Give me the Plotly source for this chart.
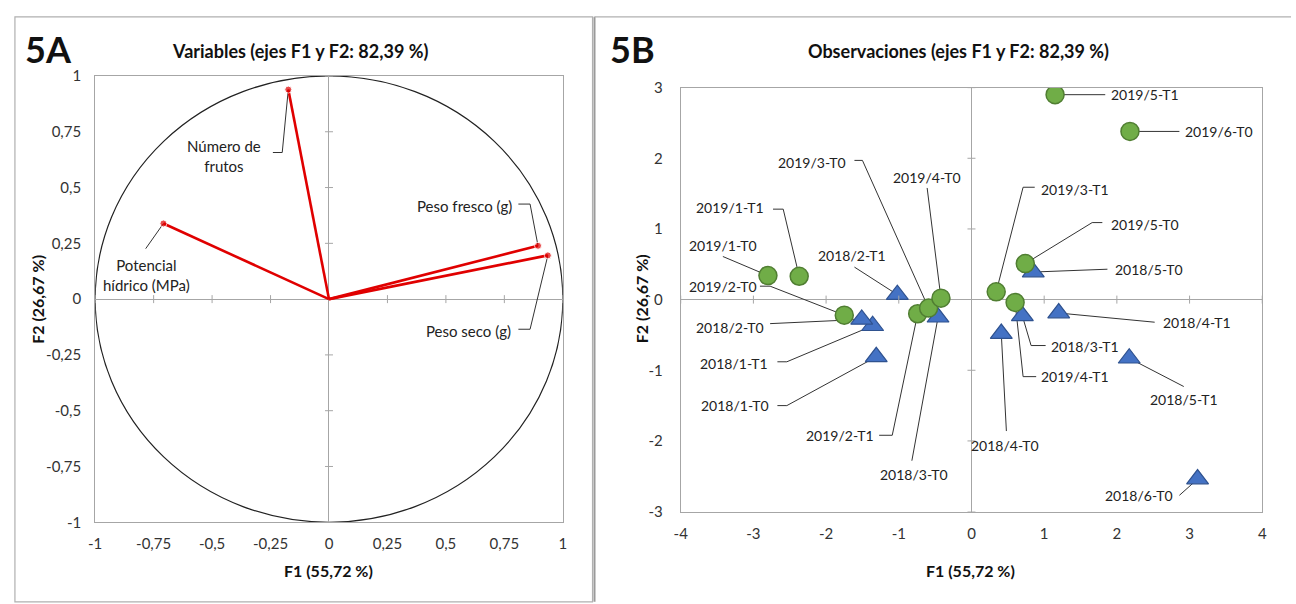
import plotly.graph_objects as go

W, H = 1296, 604

# ---------------- data ----------------
# Left panel: variable loadings on F1/F2
var_names = ["Número de frutos", "Potencial hídrico (MPa)", "Peso fresco (g)", "Peso seco (g)"]
var_f1 = [-0.174, -0.708, 0.894, 0.936]
var_f2 = [0.939, 0.339, 0.239, 0.196]

# Right panel: observations (2019 = green circles, 2018 = blue triangles)
obs19_labels = ["2019/1-T0", "2019/1-T1", "2019/2-T0", "2019/2-T1", "2019/3-T0", "2019/3-T1",
                "2019/4-T0", "2019/4-T1", "2019/5-T0", "2019/5-T1", "2019/6-T0"]
obs19_f1 = [-2.80, -2.37, -1.75, -0.74, -0.59, 0.34, -0.42, 0.60, 0.74, 1.15, 2.18]
obs19_f2 = [0.34, 0.33, -0.22, -0.20, -0.12, 0.11, 0.02, -0.04, 0.51, 2.90, 2.38]

obs18_labels = ["2018/1-T0", "2018/1-T1", "2018/2-T0", "2018/2-T1", "2018/3-T0", "2018/3-T1",
                "2018/4-T0", "2018/4-T1", "2018/5-T0", "2018/5-T1", "2018/6-T0"]
obs18_f1 = [-1.31, -1.36, -1.51, -1.02, -0.46, 0.70, 0.41, 1.20, 0.85, 2.17, 3.11]
obs18_f2 = [-0.81, -0.37, -0.28, 0.07, -0.25, -0.23, -0.48, -0.19, 0.39, -0.83, -2.54]

# ticks
left_ticks = [-1, -0.75, -0.5, -0.25, 0, 0.25, 0.5, 0.75, 1]
left_ticktext = ["-1", "-0,75", "-0,5", "-0,25", "0", "0,25", "0,5", "0,75", "1"]
right_xticks = [-4, -3, -2, -1, 0, 1, 2, 3, 4]
right_yticks = [-3, -2, -1, 0, 1, 2, 3]

# ---------------- label layout (positions only) ----------------
var_label_layout = {
    "Número de frutos": dict(text="Número de<br>frutos", pos=(-0.45, 0.64), knees=[(-0.24, 0.657), (-0.20, 0.657)]),
    "Potencial hídrico (MPa)": dict(text="Potencial<br>hídrico (MPa)", pos=(-0.78, 0.11), knees=[(-0.784, 0.226)]),
    "Peso fresco (g)": dict(text="Peso fresco (g)", pos=(0.58, 0.417), knees=[(0.81, 0.426), (0.86, 0.426)]),
    "Peso seco (g)": dict(text="Peso seco (g)", pos=(0.597, -0.143), knees=[(0.81, -0.135), (0.86, -0.135)]),
}

obs_label_layout = {
    "2019/5-T1": ((2.39, 2.90), [(1.84, 2.90)]),
    "2019/6-T0": ((3.40, 2.38), [(2.86, 2.38)]),
    "2019/3-T0": ((-2.20, 1.94), [(-1.61, 1.97), (-1.50, 1.97)]),
    "2019/4-T0": ((-0.61, 1.73), [(-0.61, 1.58)]),
    "2019/3-T1": ((1.42, 1.56), [(0.87, 1.59), (0.71, 1.59)]),
    "2019/5-T0": ((2.39, 1.06), [(1.80, 1.09), (1.66, 1.09)]),
    "2018/5-T0": ((2.44, 0.43), [(1.87, 0.43)]),
    "2018/4-T1": ((3.10, -0.32), [(2.52, -0.32)]),
    "2018/3-T1": ((1.56, -0.66), [(1.02, -0.65), (0.82, -0.65)]),
    "2019/4-T1": ((1.42, -1.09), [(0.89, -1.09), (0.71, -1.09)]),
    "2018/5-T1": ((2.92, -1.41), [(2.92, -1.23)]),
    "2018/4-T0": ((0.46, -2.07), [(0.48, -1.86)]),
    "2018/6-T0": ((2.31, -2.77), [(2.86, -2.77)]),
    "2019/1-T1": ((-3.32, 1.30), [(-2.73, 1.28), (-2.59, 1.28)]),
    "2019/1-T0": ((-3.42, 0.76), [(-3.42, 0.61)]),
    "2018/2-T1": ((-1.64, 0.63), [(-1.61, 0.46)]),
    "2019/2-T0": ((-3.42, 0.18), [(-2.91, 0.19), (-2.77, 0.19)]),
    "2018/2-T0": ((-3.32, -0.39), [(-2.77, -0.34)]),
    "2018/1-T1": ((-3.27, -0.90), [(-2.67, -0.88), (-2.54, -0.88)]),
    "2018/1-T0": ((-3.25, -1.50), [(-2.67, -1.50), (-2.54, -1.50)]),
    "2019/2-T1": ((-1.81, -1.92), [(-1.27, -1.92), (-1.09, -1.92)]),
    "2018/3-T0": ((-0.79, -2.47), [(-0.82, -2.28)]),
}

FONT = "Lato"
TXT = "#222222"
AXC = "#a6a6a6"
RED = "#e00000"

fig = go.Figure()

# ---------------- left panel ----------------
for name, x, y in zip(var_names, var_f1, var_f2):
    lay = var_label_layout[name]
    xs = [p[0] for p in lay["knees"]] + [x]
    ys = [p[1] for p in lay["knees"]] + [y]
    fig.add_trace(go.Scatter(x=xs, y=ys, mode="lines", line=dict(color="#333333", width=1),
                             xaxis="x", yaxis="y", hoverinfo="skip"))
for name, x, y in zip(var_names, var_f1, var_f2):
    fig.add_trace(go.Scatter(x=[0, x], y=[0, y], mode="lines+markers",
                             line=dict(color=RED, width=2.6),
                             marker=dict(size=[0, 7], color=RED),
                             xaxis="x", yaxis="y", name=name))
    lay = var_label_layout[name]
    fig.add_annotation(x=lay["pos"][0], y=lay["pos"][1], xref="x", yref="y", text=lay["text"],
                       showarrow=False, font=dict(family=FONT, size=15, color=TXT),
                       align="center", xanchor="center", yanchor="middle")

# ---------------- right panel ----------------
all_labels = obs19_labels + obs18_labels
all_f1 = obs19_f1 + obs18_f1
all_f2 = obs19_f2 + obs18_f2
for lab, x, y in zip(all_labels, all_f1, all_f2):
    pos, knees = obs_label_layout[lab]
    xs = [k[0] for k in knees] + [x]
    ys = [k[1] for k in knees] + [y]
    fig.add_trace(go.Scatter(x=xs, y=ys, mode="lines", line=dict(color="#333333", width=1),
                             xaxis="x2", yaxis="y2", hoverinfo="skip"))
    fig.add_annotation(x=pos[0], y=pos[1], xref="x2", yref="y2", text=lab, showarrow=False,
                       font=dict(family=FONT, size=14, color=TXT), xanchor="center", yanchor="middle")

fig.add_trace(go.Scatter(x=obs18_f1, y=obs18_f2, mode="markers", xaxis="x2", yaxis="y2", name="2018",
                         marker=dict(symbol="triangle-up", size=19, color="#4472c4",
                                     line=dict(color="#2f528f", width=1.2))))
fig.add_trace(go.Scatter(x=obs19_f1, y=obs19_f2, mode="markers", xaxis="x2", yaxis="y2", name="2019",
                         marker=dict(symbol="circle", size=18, color="#70ad47",
                                     line=dict(color="#507e32", width=1.5))))

# ---------------- shapes ----------------
shapes = []
shapes.append(dict(type="circle", xref="x", yref="y", x0=-1, y0=-1, x1=1, y1=1,
                   line=dict(color="#222222", width=1.2), layer="below"))
for t in left_ticks:
    if t == 0:
        continue
    shapes.append(dict(type="line", xref="x", yref="y", ysizemode="pixel", yanchor=0,
                       x0=t, x1=t, y0=-4, y1=4, line=dict(color=AXC, width=1)))
    shapes.append(dict(type="line", xref="x", yref="y", xsizemode="pixel", xanchor=0,
                       y0=t, y1=t, x0=-4, x1=4, line=dict(color=AXC, width=1)))
for t in right_xticks:
    if t == 0:
        continue
    shapes.append(dict(type="line", xref="x2", yref="y2", ysizemode="pixel", yanchor=0,
                       x0=t, x1=t, y0=-4, y1=4, line=dict(color=AXC, width=1)))
for t in right_yticks:
    if t == 0:
        continue
    shapes.append(dict(type="line", xref="x2", yref="y2", xsizemode="pixel", xanchor=0,
                       y0=t, y1=t, x0=-4, x1=4, line=dict(color=AXC, width=1)))
shapes.append(dict(type="rect", xref="paper", yref="paper", x0=8 / W, x1=591 / W, y0=-0.01, y1=1 - 7 / H,
                   line=dict(color="#b0b0b0", width=1.2)))
shapes.append(dict(type="line", xref="paper", yref="paper", x0=593 / W, x1=593 / W, y0=-0.01, y1=1 - 7 / H,
                   line=dict(color="#9a9a9a", width=2)))
shapes.append(dict(type="line", xref="paper", yref="paper", x0=593 / W, x1=1.0, y0=1 - 7 / H, y1=1 - 7 / H,
                   line=dict(color="#b0b0b0", width=1.2)))

# ---------------- text annotations ----------------
def ann(x, y, text, size, bold=False, angle=0):
    fig.add_annotation(x=x / W, y=1 - y / H, xref="paper", yref="paper", text=f"<b>{text}</b>" if bold else text,
                       showarrow=False, textangle=angle, xanchor="center", yanchor="middle",
                       font=dict(family=FONT, size=size, color="#111111"))

ann(42, 40, "5A", 36, bold=True)
ann(631, 40, "5B", 36, bold=True)
ann(296, 42, "Variables (ejes F1 y F2: 82,39 %)", 18, bold=True)
ann(960, 42, "Observaciones (ejes F1 y F2: 82,39 %)", 18, bold=True)
ann(324, 578, "F1 (55,72 %)", 16, bold=True)
ann(973, 578, "F1 (55,72 %)", 16, bold=True)
ann(30, 298, "F2 (26,67 %)", 16, bold=True, angle=-90)
ann(640, 298, "F2 (26,67 %)", 16, bold=True, angle=-90)

axis_common = dict(showgrid=False, zeroline=True, zerolinecolor=AXC, zerolinewidth=1,
                   showline=True, mirror=True, linecolor=AXC, linewidth=1, ticks="",
                   tickfont=dict(family=FONT, size=15, color="#333333"), fixedrange=True)

fig.update_layout(
    width=W, height=H, margin=dict(l=0, r=0, t=0, b=0),
    paper_bgcolor="white", plot_bgcolor="white", showlegend=False,
    xaxis=dict(domain=[89 / W, 561 / W], range=[-1, 1], tickvals=left_ticks, ticktext=left_ticktext,
               anchor="y", ticklabelstandoff=8, **axis_common),
    yaxis=dict(domain=[1 - 528 / H, 1 - 68 / H], range=[-1, 1], tickvals=left_ticks, ticktext=left_ticktext,
               anchor="x", ticklabelstandoff=10, **axis_common),
    xaxis2=dict(domain=[680 / W, 1267 / W], range=[-4, 4], tickvals=right_xticks,
                ticktext=[str(t) for t in right_xticks], anchor="y2", ticklabelstandoff=8, **axis_common),
    yaxis2=dict(domain=[1 - 517 / H, 1 - 80 / H], range=[-3, 3], tickvals=right_yticks,
                ticktext=[str(t) for t in right_yticks], anchor="x2", ticklabelstandoff=14, **axis_common),
    shapes=shapes,
)

fig.write_html("out.html", config={"displayModeBar": False},
               post_script="document.body.style.margin='0px';document.body.style.overflow='hidden';")
